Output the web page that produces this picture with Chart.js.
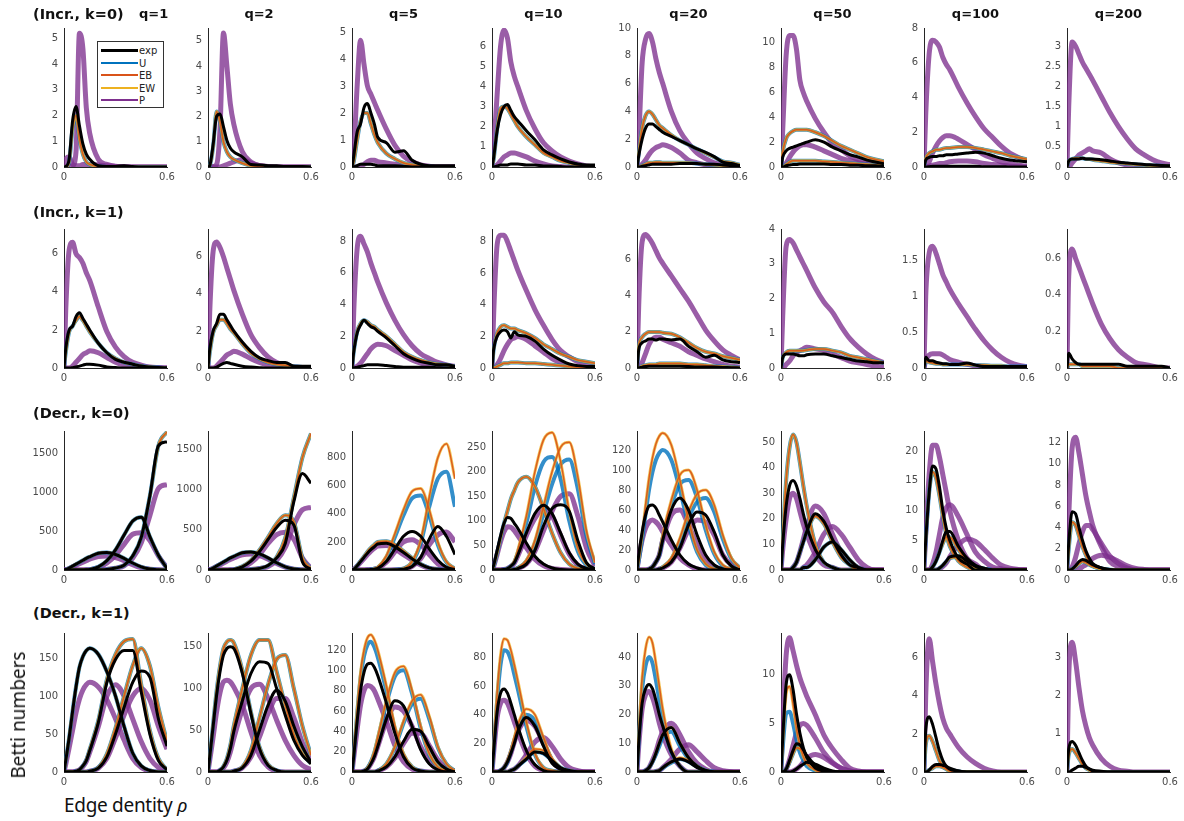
<!DOCTYPE html>
<html>
<head>
<meta charset="utf-8">
<script src="https://cdn.jsdelivr.net/npm/chart.js@4/dist/chart.umd.min.js"></script>
<style>
  body { margin: 0; background: #fff; width: 1184px; height: 821px; position: relative; overflow: hidden; font-family: "DejaVu Sans", sans-serif; }
  canvas { position: absolute; }
  .title { position: absolute; font-weight: bold; font-size: 13px; color: #111; white-space: pre; line-height: 16px; }
  .rowtitle { font-size: 14.5px; }
  .legend { position: absolute; left: 97px; top: 41px; width: 65px; height: 65px; border: 1px solid #333; background: #fff; font-size: 10px; color: #222; }
  .legend .entry { position: absolute; left: 41px; height: 13px; line-height: 13px; }
  .legend .swatch { position: absolute; left: 3px; width: 37px; }
  .ylab { position: absolute; left: 18px; top: 715px; transform: translate(-50%, -50%) rotate(-90deg); font-family: "Noto Sans", sans-serif; font-size: 19px; color: #111; white-space: nowrap; }
  .xlab { position: absolute; left: 64px; top: 792px; font-family: "Noto Sans", sans-serif; font-size: 19px; color: #111; white-space: nowrap; letter-spacing: -0.3px; }
</style>
</head>
<body>
<script>
// edge density grid shared by every curve
const rho = [0, 0.01, 0.03, 0.05, 0.07, 0.09, 0.11, 0.13, 0.15, 0.2, 0.25, 0.3, 0.35, 0.4, 0.45, 0.5, 0.55, 0.6];
const qLabels = ['q=1', 'q=2', 'q=5', 'q=10', 'q=20', 'q=50', 'q=100', 'q=200'];
const rowTitles = ['(Incr., k=0)', '(Incr., k=1)', '(Decr., k=0)', '(Decr., k=1)'];

// y-axis limits and tick steps per row
const incr0Max = [5.4, 5.5, 5.15, 6.9, 10, 11.2, 8, 3.45];
const incr0Step = [1, 1, 1, 1, 2, 2, 2, 0.5];
const incr1Max = [7.3, 7.5, 8.75, 8.8, 7.7, 4.0, 1.94, 0.76];
const incr1Step = [2, 2, 2, 2, 2, 1, 0.5, 0.2];
const decr0Max = [1790, 1730, 990, 283, 139, 54.4, 23.4, 13.1];
const decr0Step = [500, 500, 200, 50, 20, 10, 5, 2];
const decr1Max = [183, 166.5, 136.7, 97, 48.4, 14.3, 7.3, 3.64];
const decr1Step = [50, 50, 20, 20, 10, 5, 2, 1];

// Incr., k=0 : one list of curves per q
const incr0Exp = [
  [[0,0.02,0.3,1.8,2.35,1.6,0.9,0.5,0.3,0.05,0.02,0.02,0.05,0.02,0,0,0,0]],
  [[0,0.05,0.9,2.0,2.1,1.6,1.05,0.75,0.6,0.4,0.1,0.08,0.05,0.05,0.02,0.02,0.02,0]],
  [[0,0.4,1.3,1.6,2.2,2.35,2.0,1.6,1.1,0.9,0.55,0.6,0.25,0.1,0.05,0.05,0.05,0.05],
   [0,0,0.05,0.1,0.1,0.1,0.1,0.08,0.05,0.05,0.05,0.02,0,0,0,0,0,0]],
  [[0,0.5,1.8,2.6,3.0,3.1,2.8,2.5,2.3,1.8,1.35,0.85,0.6,0.4,0.25,0.15,0.1,0.1],
   [0,0,0.05,0.1,0.1,0.1,0.15,0.15,0.15,0.1,0.1,0.05,0.05,0.02,0,0,0,0]],
  [[0,0.8,2.0,2.8,3.1,3.1,2.9,2.7,2.5,2.2,1.9,1.6,1.3,1.05,0.75,0.35,0.25,0.1],
   [0,0,0.05,0.1,0.15,0.2,0.2,0.2,0.2,0.2,0.25,0.25,0.25,0.2,0.2,0.15,0.1,0.05]],
  [[0,0.8,1.3,1.5,1.6,1.7,1.8,1.9,2.0,2.2,2.0,1.6,1.3,1.0,0.8,0.55,0.4,0.25],
   [0,0,0.1,0.15,0.2,0.2,0.25,0.25,0.25,0.25,0.25,0.2,0.2,0.15,0.15,0.1,0.1,0.05]],
  [[0,0.4,0.55,0.6,0.6,0.65,0.65,0.7,0.7,0.75,0.8,0.85,0.8,0.65,0.5,0.4,0.35,0.3],
   [0,0,0.02,0.05,0.05,0.05,0.05,0.05,0.05,0.05,0.05,0.05,0.02,0.02,0.02,0,0,0]],
  [[0,0.15,0.2,0.2,0.2,0.22,0.2,0.2,0.2,0.18,0.15,0.12,0.1,0.08,0.06,0.05,0.04,0.03]]
];
const incr0Model = [
  [[0,0,0.2,1.5,2.0,1.1,0.5,0.2,0.1,0.02,0,0,0,0,0,0,0,0]],
  [[0,0.05,0.8,2.2,1.8,1.0,0.6,0.4,0.3,0.15,0.05,0.02,0,0,0,0,0,0]],
  [[0,0.2,1.0,1.7,2.0,2.0,1.6,1.2,0.9,0.5,0.3,0.15,0.08,0.03,0.02,0,0,0]],
  [[0,0.4,1.9,2.9,3.0,2.9,2.6,2.3,2.0,1.5,1.1,0.7,0.5,0.3,0.2,0.1,0.05,0.05]],
  [[0,1.0,2.8,3.7,4.0,3.8,3.4,3.0,2.8,2.3,1.9,1.6,1.3,1.0,0.7,0.4,0.3,0.15],
   [0,0,0.1,0.2,0.3,0.3,0.35,0.35,0.3,0.3,0.3,0.3,0.25,0.2,0.15,0.1,0.05,0.02]],
  [[0,1.2,2.3,2.7,2.9,3.0,3.0,3.0,3.0,2.8,2.5,2.1,1.7,1.4,1.1,0.8,0.6,0.45],
   [0,0,0.2,0.4,0.5,0.5,0.5,0.5,0.5,0.5,0.45,0.4,0.35,0.3,0.25,0.2,0.15,0.1]],
  [[0,0.5,0.8,0.9,1.0,1.0,1.05,1.1,1.1,1.15,1.15,1.1,1.0,0.9,0.8,0.65,0.55,0.45]],
  [[0,0.15,0.2,0.22,0.22,0.22,0.2,0.2,0.18,0.15,0.12,0.1,0.08,0.06,0.05,0.04,0.03,0.02]]
];
const incr0P = [
  [[0,0,0.02,0.05,0.6,5.2,4.6,2.3,1.3,0.3,0.1,0.03,0.02,0,0,0,0,0],
   [0,0.3,0.4,0.1,0.05,0.05,0.1,0.1,0.1,0.08,0.05,0.02,0,0,0,0,0,0]],
  [[0,0,0.02,0.1,1.5,5.3,4.0,2.5,1.7,0.6,0.2,0.05,0.02,0,0,0,0,0],
   [0,0,0,0,0,0.05,0.1,0.15,0.2,0.3,0.15,0.05,0.02,0,0,0,0,0]],
  [[0,0.5,3.0,4.7,3.8,3.0,2.7,2.4,2.1,1.4,0.8,0.4,0.2,0.08,0.03,0,0,0],
   [0,0,0,0.05,0.1,0.2,0.25,0.25,0.2,0.15,0.1,0.05,0.02,0,0,0,0,0]],
  [[0,1.0,3.6,6.0,6.8,6.4,5.2,4.5,4.0,2.8,1.9,1.2,0.8,0.5,0.3,0.15,0.05,0],
   [0,0,0.1,0.3,0.5,0.6,0.7,0.7,0.65,0.5,0.3,0.15,0.05,0.02,0,0,0,0]],
  [[0,2.0,7.5,9.2,9.6,9.0,7.8,6.8,6.0,4.0,2.6,1.7,1.0,0.6,0.3,0.15,0.05,0],
   [0,0,0.2,0.5,0.9,1.2,1.4,1.5,1.6,1.4,1.0,0.5,0.3,0.15,0.05,0,0,0]],
  [[0,3.0,9.0,10.6,10.6,9.5,7.0,6.0,5.3,3.9,2.8,1.9,1.4,0.9,0.6,0.4,0.3,0.2],
   [0,0,0.3,0.8,1.2,1.5,1.7,1.8,1.8,1.6,1.3,1.0,0.7,0.5,0.35,0.2,0.1,0.05]],
  [[0,3.0,6.5,7.3,7.2,6.9,6.3,5.9,5.6,4.6,3.7,2.9,2.2,1.7,1.2,0.8,0.55,0.35],
   [0,0,0.3,0.8,1.2,1.5,1.7,1.8,1.8,1.6,1.3,1.0,0.7,0.5,0.3,0.2,0.1,0.05],
   [0,0,0.05,0.1,0.15,0.2,0.2,0.25,0.3,0.35,0.35,0.3,0.2,0.15,0.1,0.05,0.02,0]],
  [[0,1.5,3.1,3.0,2.8,2.6,2.45,2.3,2.15,1.75,1.35,1.0,0.7,0.45,0.3,0.18,0.1,0.06],
   [0,0,0.1,0.2,0.3,0.35,0.4,0.45,0.4,0.35,0.2,0.1,0.05,0.02,0,0,0,0]]
];

// Incr., k=1
const incr1Exp = [
  [[0,1.0,2.0,2.2,2.7,2.9,2.6,2.3,2.0,1.3,0.8,0.45,0.3,0.2,0.1,0.05,0.02,0],
   [0,0,0,0.02,0.05,0.1,0.15,0.2,0.2,0.15,0.05,0.02,0,0,0,0,0,0]],
  [[0,1.0,2.0,2.4,2.9,2.9,2.6,2.3,2.0,1.4,0.9,0.55,0.4,0.3,0.3,0.1,0.1,0.1],
   [0,0,0,0.05,0.15,0.25,0.3,0.25,0.2,0.1,0.05,0.02,0,0,0,0,0,0]],
  [[0,1.0,2.2,2.7,3.0,2.8,2.6,2.5,2.3,1.9,1.4,0.9,0.6,0.4,0.3,0.2,0.2,0.1],
   [0,0,0.05,0.1,0.15,0.2,0.2,0.2,0.2,0.15,0.1,0.05,0.05,0.05,0.05,0.02,0,0]],
  [[0,1.2,2.0,2.3,2.4,2.3,1.9,2.3,2.1,2.0,1.7,1.2,0.8,0.5,0.25,0.15,0.1,0.1]],
  [[0,1.0,1.4,1.5,1.6,1.6,1.55,1.6,1.6,1.55,1.6,1.2,0.9,0.6,0.7,0.45,0.35,0.3],
   [0,0,0.05,0.08,0.1,0.1,0.1,0.1,0.1,0.1,0.1,0.08,0.05,0.05,0.05,0.03,0.02,0]],
  [[0,0.3,0.4,0.4,0.4,0.38,0.35,0.35,0.38,0.4,0.4,0.35,0.3,0.25,0.2,0.18,0.15,0.15]],
  [[0,0.15,0.1,0.1,0.08,0.07,0.06,0.06,0.05,0.05,0.07,0.04,0.02,0.02,0.02,0.02,0.02,0.02]],
  [[0,0.08,0.05,0.03,0.02,0.02,0.02,0.02,0.02,0.02,0.02,0.02,0.01,0.01,0.01,0.01,0.01,0]]
];
const incr1Model = [
  [[0,0.8,1.9,2.2,2.5,2.7,2.5,2.2,1.9,1.3,0.8,0.5,0.3,0.2,0.1,0.05,0.02,0]],
  [[0,0.8,1.9,2.3,2.6,2.6,2.4,2.1,1.9,1.3,0.8,0.5,0.3,0.2,0.15,0.1,0.05,0.02]],
  [[0,1.0,2.3,2.8,3.0,2.9,2.7,2.6,2.4,2.0,1.5,1.0,0.7,0.5,0.35,0.25,0.2,0.1]],
  [[0,1.2,2.2,2.6,2.7,2.6,2.5,2.5,2.4,2.2,1.9,1.5,1.2,0.9,0.7,0.5,0.4,0.3],
   [0,0,0.1,0.2,0.3,0.3,0.35,0.35,0.35,0.3,0.3,0.25,0.2,0.15,0.1,0.05,0.02,0]],
  [[0,1.2,1.7,1.9,2.0,2.0,2.0,2.0,1.95,1.9,1.7,1.4,1.1,0.9,0.8,0.65,0.55,0.45],
   [0,0,0.1,0.15,0.2,0.2,0.2,0.25,0.25,0.25,0.25,0.2,0.2,0.15,0.1,0.08,0.05,0.02]],
  [[0,0.3,0.45,0.5,0.5,0.5,0.5,0.5,0.52,0.55,0.55,0.5,0.45,0.35,0.3,0.25,0.2,0.15]],
  [[0,0.1,0.08,0.07,0.06,0.06,0.05,0.05,0.05,0.05,0.05,0.04,0.04,0.03,0.03,0.02,0.02,0.02]],
  [[0,0.02,0.02,0.02,0.02,0.01,0.01,0.01,0.01,0.01,0.01,0,0,0,0,0,0,0]]
];
const incr1P = [
  [[0,3.0,6.2,6.6,6.0,5.8,5.5,5.0,4.6,3.2,1.9,1.1,0.6,0.3,0.15,0.05,0.02,0],
   [0,0,0,0.1,0.3,0.5,0.7,0.8,0.9,0.8,0.55,0.3,0.15,0.05,0.02,0,0,0]],
  [[0,3.0,6.3,6.8,6.5,6.0,5.4,4.8,4.2,2.9,1.8,1.1,0.6,0.3,0.15,0.05,0.02,0],
   [0,0,0,0.1,0.3,0.5,0.7,0.8,0.9,0.75,0.5,0.3,0.15,0.05,0.02,0,0,0]],
  [[0,3.5,7.5,8.3,7.8,7.3,6.6,6.0,5.4,4.1,3.0,2.1,1.4,0.9,0.6,0.35,0.2,0.1],
   [0,0,0.1,0.3,0.6,0.9,1.2,1.4,1.5,1.4,1.1,0.8,0.5,0.3,0.15,0.05,0.02,0]],
  [[0,3.5,7.8,8.4,8.4,8.0,7.4,6.8,6.2,4.9,3.7,2.7,1.8,1.1,0.7,0.4,0.2,0.1],
   [0,0,0.2,0.6,1.1,1.5,1.8,1.9,2.0,1.8,1.4,1.0,0.6,0.35,0.15,0.05,0.02,0]],
  [[0,3.5,7.0,7.4,7.2,6.9,6.5,6.1,5.8,5.1,4.4,3.7,2.9,2.1,1.5,1.0,0.7,0.45],
   [0,0,0.3,0.8,1.3,1.6,1.7,1.7,1.6,1.4,1.2,0.9,0.7,0.5,0.35,0.2,0.1,0.05]],
  [[0,1.5,3.5,3.7,3.6,3.4,3.2,3.0,2.8,2.3,1.9,1.6,1.2,0.85,0.6,0.4,0.25,0.15],
   [0,0,0.1,0.2,0.35,0.45,0.5,0.55,0.6,0.55,0.5,0.4,0.3,0.2,0.15,0.1,0.05,0.02]],
  [[0,1.0,1.6,1.7,1.6,1.45,1.3,1.2,1.1,0.9,0.72,0.54,0.38,0.25,0.15,0.08,0.04,0.02],
   [0,0.1,0.18,0.2,0.2,0.2,0.18,0.15,0.12,0.08,0.05,0.03,0.02,0,0,0,0,0]],
  [[0,0.5,0.65,0.6,0.55,0.5,0.45,0.4,0.35,0.24,0.16,0.1,0.06,0.03,0.02,0.01,0,0]]
];

// Decr., k=0 : three humps per q
const decr0Exp = [
  [[0,5,25,50,75,100,125,150,170,215,225,200,150,90,40,12,3,0],
   [0,0,0,0,0,0,1,3,8,40,120,260,450,630,680,430,190,20],
   [0,0,0,0,0,0,0,0,0,2,8,25,60,180,420,950,1600,1650]],
  [[0,5,25,50,75,100,125,150,170,215,225,200,150,90,40,12,3,0],
   [0,0,0,0,0,0,1,3,8,40,110,230,380,530,620,560,100,10],
   [0,0,0,0,0,0,0,0,0,2,6,20,55,150,330,850,1200,1080]],
  [[0,5,30,60,90,120,145,165,185,190,165,125,80,40,15,5,1,0],
   [0,0,0,0,0,1,3,6,12,60,150,240,275,240,150,70,20,3],
   [0,0,0,0,0,0,0,0,0,0,1,5,25,90,220,310,240,110]],
  [[0,10,40,70,95,107,105,95,85,55,28,12,4,1,0,0,0,0],
   [0,0,0,0,1,3,8,15,30,75,115,132,115,75,35,12,3,0],
   [0,0,0,0,0,0,0,1,3,12,40,90,125,133,120,60,15,2]],
  [[0,15,38,55,64,65,62,55,48,30,15,6,2,0,0,0,0,0],
   [0,0,0,0,1,3,8,15,30,60,72,60,35,15,5,1,0,0],
   [0,0,0,0,0,0,0,1,2,8,22,45,58,55,38,15,4,0]],
  [[0,10,25,33,35,33,28,22,17,8,3,1,0,0,0,0,0,0],
   [0,0,0,0,1,3,7,11,15,22,19,12,6,2,1,0,0,0],
   [0,0,0,0,0,0,0,1,1,4,9,11,8,4,1,0,0,0]],
  [[0,5,13,17.5,17,14,10,7,5,2,1,0,0,0,0,0,0,0],
   [0,0,0,0.5,1.5,3,5,6.5,6.5,4,2,0.8,0.3,0,0,0,0,0],
   [0,0,0,0,0,0.3,0.8,1.5,2.2,2.4,1.5,0.6,0.2,0,0,0,0,0]],
  [[0,2.5,5.5,5.3,4,2.8,1.8,1.1,0.6,0.2,0,0,0,0,0,0,0,0],
   [0,0,0.1,0.4,0.8,1.0,0.9,0.7,0.5,0.2,0.05,0,0,0,0,0,0,0]]
];
const decr0Model = [
  [[0,5,25,50,75,100,125,150,170,215,225,200,150,90,40,12,3,0],
   [0,0,0,0,0,0,1,3,8,40,120,260,450,630,680,430,190,20],
   [0,0,0,0,0,0,0,0,0,2,8,25,60,180,420,950,1600,1780]],
  [[0,5,25,50,75,100,125,150,170,215,225,200,150,90,40,12,3,0],
   [0,0,0,0,0,0,1,3,8,45,120,250,410,580,680,600,150,15],
   [0,0,0,0,0,0,0,0,0,2,6,20,55,160,400,900,1400,1700]],
  [[0,5,32,65,97,130,158,180,200,205,180,135,85,42,15,5,1,0],
   [0,0,0,0,0,1,4,10,20,100,260,430,560,580,430,200,60,10],
   [0,0,0,0,0,0,0,0,0,0,2,10,60,210,520,800,900,650]],
  [[0,8,35,65,95,120,145,162,178,190,170,125,75,35,12,3,1,0],
   [0,0,0,0,1,3,8,18,40,110,200,265,280,220,120,45,12,2],
   [0,0,0,0,0,0,0,1,4,20,60,130,200,250,260,190,80,15]],
  [[0,10,35,65,92,112,126,134,137,125,90,50,20,6,1,0,0,0],
   [0,0,0,0,1,3,8,16,35,70,95,100,80,45,18,5,1,0],
   [0,0,0,0,0,0,0,1,3,12,32,58,76,80,65,35,12,2]],
  [[0,12,35,48,53,50,42,33,25,10,3,1,0,0,0,0,0,0],
   [0,0,0,0,1,3,7,11,15,21,18,11,5,2,0,0,0,0],
   [0,0,0,0,0,0,0,1,1,4,9,11,8,4,1,0,0,0]],
  [[0,5,13,16.5,15.5,12.5,9,6,4,1.5,0.5,0,0,0,0,0,0,0],
   [0,0,0,0.5,1.5,3,4.5,5.5,5.5,3.5,1.5,0.5,0.2,0,0,0,0,0],
   [0,0,0,0,0,0.3,0.8,1.4,2,2.2,1.3,0.5,0.2,0,0,0,0,0]],
  [[0,2,4.5,4.2,3.2,2.2,1.4,0.8,0.4,0.1,0,0,0,0,0,0,0,0],
   [0,0,0.1,0.3,0.6,0.8,0.7,0.5,0.35,0.15,0.03,0,0,0,0,0,0,0]]
];
// uniform-model curves where they sit below EB/EW (null: same as EB/EW)
const decr0Unif = [
  null,
  null,
  [[0,5,32,65,97,130,158,180,200,205,180,135,85,42,15,5,1,0],
   [0,0,0,0,0,1,4,9,18,90,235,390,510,530,390,180,55,9],
   [0,0,0,0,0,0,0,0,0,0,2,10,55,190,450,650,700,450]],
  [[0,8,35,65,95,120,145,162,178,190,170,125,75,35,12,3,1,0],
   [0,0,0,0,1,3,8,16,35,95,170,220,230,185,100,38,10,2],
   [0,0,0,0,0,0,0,1,4,18,55,115,175,215,225,165,70,12]],
  [[0,9,31,56,80,98,110,117,120,110,80,45,18,5,1,0,0,0],
   [0,0,0,0,1,3,8,15,32,64,86,90,72,40,16,4,1,0],
   [0,0,0,0,0,0,0,1,3,11,29,52,68,72,58,31,11,2]],
  null,
  null,
  null
];
const decr0P = [
  [[0,4,20,40,60,80,100,120,140,175,180,160,120,70,30,10,2,0],
   [0,0,0,0,0,0,1,2,5,30,90,190,330,460,480,380,180,30],
   [0,0,0,0,0,0,0,0,0,2,8,22,55,150,350,700,1050,1100]],
  [[0,4,22,45,65,88,110,130,150,190,200,180,135,80,35,10,2,0],
   [0,0,0,0,0,0,1,2,5,30,90,190,330,440,470,380,150,20],
   [0,0,0,0,0,0,0,0,0,2,6,18,45,120,280,560,750,780]],
  [[0,5,28,55,82,110,135,155,170,175,150,110,70,35,12,4,1,0],
   [0,0,0,0,0,1,3,6,12,55,130,200,215,180,110,45,12,2],
   [0,0,0,0,0,0,0,0,0,0,1,5,25,80,180,250,270,200]],
  [[0,8,32,58,78,88,87,80,70,45,22,9,3,1,0,0,0,0],
   [0,0,0,0,1,3,7,14,28,70,105,125,110,70,32,10,2,0],
   [0,0,0,0,0,0,0,1,3,12,38,80,120,150,155,110,45,8]],
  [[0,12,30,42,48,50,48,44,38,25,12,5,1,0,0,0,0,0],
   [0,0,0,0,1,3,8,15,30,55,60,45,25,10,3,1,0,0],
   [0,0,0,0,0,0,0,1,2,8,22,40,50,48,35,15,5,1]],
  [[0,8,20,28,30,28,23,18,14,6,2,1,0,0,0,0,0,0],
   [0,0,0,0,1,3,7,12,17,25,22,14,7,3,1,0,0,0],
   [0,0,0,0,0,0,0,1,2,7,14,17,14,9,4,1,0,0]],
  [[0,6,16,21,21,19,16,13,10,5,2,1,0,0,0,0,0,0],
   [0,0,0,1,3,6,9,10.5,11,9,6,3,1.5,0.5,0.2,0,0,0],
   [0,0,0,0,0,0.2,0.6,1.2,2.2,4.2,5.2,4.8,3.5,2,0.8,0.3,0.1,0]],
  [[0,5,11.5,12.5,11,9,7,5.5,4.2,2.2,0.8,0.3,0.1,0,0,0,0,0],
   [0,0,0.3,1.2,2.5,3.6,4.2,4.2,3.8,2.5,1.3,0.6,0.2,0,0,0,0,0],
   [0,0,0,0,0.1,0.3,0.5,0.8,1.1,1.4,1.2,0.8,0.4,0.15,0.05,0,0,0]]
];

// Decr., k=1
const decr1Exp = [
  [[0,15,45,80,112,138,152,160,163,155,132,100,60,25,8,2,0,0],
   [0,0,0,0,1,3,8,15,28,65,118,148,160,160,105,50,15,3],
   [0,0,0,0,0,0,0,0,1,5,20,50,85,118,133,125,70,34]],
  [[0,18,55,92,120,140,148,150,148,118,70,28,8,2,0,0,0,0],
   [0,0,0,0,2,6,14,28,48,85,118,132,130,100,68,38,20,10],
   [0,0,0,0,0,0,0,0,1,5,20,50,80,98,85,55,30,12]],
  [[0,15,50,80,98,106,107,103,95,68,38,15,4,1,0,0,0,0],
   [0,0,0,0,1,3,8,15,25,52,70,65,45,22,8,2,0,0],
   [0,0,0,0,0,0,0,0,1,5,15,30,42,40,25,10,3,0]],
  [[0,15,42,55,58,55,48,40,32,15,5,1,0,0,0,0,0,0],
   [0,0,0,1,3,7,13,20,28,38,32,18,6,2,0,0,0,0],
   [0,0,0,0,0,0,1,2,4,9,14,13,8,3,1,0,0,0]],
  [[0,10,24,29,30.5,29,25,20,16,7,2,0,0,0,0,0,0,0],
   [0,0,0,0.5,1.5,3.5,6.5,10,13,15.5,10,5,2,0.5,0,0,0,0],
   [0,0,0,0,0,0,0.2,0.5,1.5,3.5,4.5,3.5,1.5,0.5,0,0,0,0]],
  [[0,3.5,9,10,8.5,6,4,2.5,1.5,0.4,0.1,0,0,0,0,0,0,0],
   [0,0,0.3,1.2,2.2,2.9,2.8,2.3,1.7,0.7,0.2,0,0,0,0,0,0,0],
   [0,0,0,0,0.1,0.3,0.6,0.8,1,0.8,0.4,0.1,0,0,0,0,0,0]],
  [[0,2.2,2.9,2.5,1.8,1.1,0.6,0.3,0.15,0.05,0,0,0,0,0,0,0,0],
   [0,0,0.1,0.3,0.4,0.4,0.35,0.3,0.2,0.05,0,0,0,0,0,0,0,0]],
  [[0,0.6,0.8,0.7,0.5,0.3,0.15,0.08,0.03,0,0,0,0,0,0,0,0,0],
   [0,0,0.05,0.1,0.15,0.15,0.12,0.08,0.05,0.02,0,0,0,0,0,0,0,0]]
];
const decr1Model = [
  [[0,15,45,80,112,138,152,160,163,155,132,100,60,25,8,2,0,0],
   [0,0,0,0,1,3,8,16,30,68,122,155,172,175,115,55,18,3],
   [0,0,0,0,0,0,0,0,1,6,24,58,100,140,163,140,85,40]],
  [[0,18,58,97,127,148,156,158,155,122,72,30,9,2,0,0,0,0],
   [0,0,0,0,2,7,16,32,55,100,140,158,158,120,80,45,22,10],
   [0,0,0,0,0,0,0,0,1,6,26,65,105,135,140,100,55,20]],
  [[0,18,60,98,120,132,135,130,120,85,45,18,5,1,0,0,0,0],
   [0,0,0,0,1,4,10,20,34,70,98,104,80,45,18,5,1,0],
   [0,0,0,0,0,0,0,0,1,8,25,50,70,76,55,25,8,1]],
  [[0,18,55,82,93,92,85,75,64,35,13,3,1,0,0,0,0,0],
   [0,0,0,1,3,8,15,24,33,44,40,24,9,2,0,0,0,0],
   [0,0,0,0,0,0,1,2,4,10,16,15,9,3,1,0,0,0]],
  [[0,12,33,43,47,45,38,30,22,8,2,0,0,0,0,0,0,0],
   [0,0,0,0.5,1.5,3.5,6.5,10,13,15.5,10,5,2,0.5,0,0,0,0],
   [0,0,0,0,0,0,0.2,0.6,1.5,3.5,5,4,2,0.5,0.1,0,0,0]],
  [[0,3,8,8.8,7,4.5,2.8,1.6,0.9,0.2,0,0,0,0,0,0,0,0],
   [0,0,0.3,1.0,1.9,2.5,2.4,2.0,1.5,0.6,0.15,0,0,0,0,0,0,0]],
  [[0,1.4,1.9,1.6,1.1,0.6,0.3,0.15,0.05,0,0,0,0,0,0,0,0,0],
   [0,0,0.1,0.2,0.3,0.3,0.25,0.2,0.12,0.03,0,0,0,0,0,0,0,0]],
  [[0,0.45,0.6,0.5,0.35,0.2,0.1,0.05,0,0,0,0,0,0,0,0,0,0]]
];
const decr1Unif = [
  null,
  null,
  [[0,17,57,93,114,125,128,123,113,80,42,17,5,1,0,0,0,0],
   [0,0,0,0,1,4,10,19,32,67,94,100,77,43,17,5,1,0],
   [0,0,0,0,0,0,0,0,1,8,24,48,67,72,52,24,8,1]],
  [[0,16,50,75,85,84,78,68,58,32,12,3,1,0,0,0,0,0],
   [0,0,0,1,3,7,14,22,30,40,36,22,8,2,0,0,0,0],
   [0,0,0,0,0,0,1,2,4,9,14,13,8,3,1,0,0,0]],
  [[0,11,29,37,40,38,32,25,18,7,2,0,0,0,0,0,0,0],
   [0,0,0,0.5,1.5,3.5,6,9,12,14,9,4.5,2,0.5,0,0,0,0],
   [0,0,0,0,0,0,0.2,0.5,1.4,3.2,4.5,3.6,1.8,0.5,0.1,0,0,0]],
  [[0,2.5,6,6.2,5,3.3,2,1.2,0.6,0.15,0,0,0,0,0,0,0,0],
   [0,0,0.3,1.0,1.9,2.5,2.4,2.0,1.5,0.6,0.15,0,0,0,0,0,0,0]],
  null,
  null
];
const decr1P = [
  [[0,10,32,55,78,96,108,115,118,112,95,70,42,18,6,1,0,0],
   [0,0,0,0,1,3,7,14,26,60,100,115,100,70,40,18,6,1],
   [0,0,0,0,0,0,0,0,1,5,18,45,75,100,110,95,60,30]],
  [[0,14,42,72,95,108,110,108,102,80,48,20,6,1,0,0,0,0],
   [0,0,0,0,2,5,12,24,40,75,100,105,88,62,38,20,8,3],
   [0,0,0,0,0,0,0,0,1,5,18,42,70,88,88,65,35,12]],
  [[0,14,42,66,80,85,84,80,72,50,26,10,3,1,0,0,0,0],
   [0,0,0,0,1,3,8,15,25,50,64,60,45,25,10,3,1,0],
   [0,0,0,0,0,0,0,0,1,5,14,28,38,38,26,12,4,1]],
  [[0,14,38,48,50,48,42,35,28,13,4,1,0,0,0,0,0,0],
   [0,0,0,1,3,7,13,21,28,36,32,20,8,2,0,0,0,0],
   [0,0,0,0,0,0,1,2,4,12,21,24,18,9,3,1,0,0]],
  [[0,9,22,27,28,26,22,17,13,6,2,0,0,0,0,0,0,0],
   [0,0,0,0.5,1.5,4,7,11,14,17,13,7,3,1,0,0,0,0],
   [0,0,0,0,0,0,0.2,0.5,1.5,4.5,8,9.5,7,4,1.5,0.5,0.1,0]],
  [[0,5,12,13.8,12.5,11,9.7,8.7,7.8,5.9,3.8,2.4,1.3,0.4,0.1,0,0,0],
   [0,0,0.3,1.3,2.7,4,4.8,5,4.8,3.5,2,1,0.4,0.1,0,0,0,0],
   [0,0,0,0,0.1,0.3,0.6,1,1.4,1.8,1.5,0.9,0.4,0.1,0,0,0,0]],
  [[0,4,7,5.8,4.6,3.6,2.8,2.3,2.0,1.3,0.8,0.45,0.2,0.05,0,0,0,0]],
  [[0,2.5,3.4,2.9,2.2,1.6,1.2,0.9,0.7,0.35,0.15,0.05,0.02,0,0,0,0,0]]
];

// ---- layout of the 4 x 8 grid ----
const colLeft = [64, 207.5, 352, 492, 637, 781, 924, 1067];
const rowBottom = [167, 368, 570, 771.5];
const titleY = [14, 212, 413, 613];
const PLOT_W = 103, PLOT_H = 143;
const AX_W = 40, AX_H = 20, PAD_T = 8, PAD_R = 12;

const COLORS = {
  exp: '#000000',
  U: 'rgba(0,114,189,0.8)',
  EB: 'rgba(217,83,25,0.9)',
  EW: 'rgba(237,177,32,0.75)',
  P: 'rgba(126,47,142,0.78)'
};

const rows = [
  { exp: incr0Exp, model: incr0Model, unif: incr0Model, p: incr0P, max: incr0Max, step: incr0Step },
  { exp: incr1Exp, model: incr1Model, unif: incr1Model, p: incr1P, max: incr1Max, step: incr1Step },
  { exp: decr0Exp, model: decr0Model, unif: decr0Unif, p: decr0P, max: decr0Max, step: decr0Step },
  { exp: decr1Exp, model: decr1Model, unif: decr1Unif, p: decr1P, max: decr1Max, step: decr1Step }
];

Chart.defaults.font.family = '"DejaVu Sans", sans-serif';
Chart.defaults.font.size = 10;
Chart.defaults.color = '#4a4a4a';

function lineSet(values, color, width) {
  return {
    data: rho.map((x, i) => ({ x: x, y: values[i] })),
    borderColor: color,
    borderWidth: width,
    pointRadius: 0,
    fill: false,
    cubicInterpolationMode: 'monotone'
  };
}

function fmt(v) { return String(+v.toFixed(2)); }

function addText(cls, text, left, top, center) {
  const d = document.createElement('div');
  d.className = cls;
  d.textContent = text;
  d.style.left = left + 'px';
  d.style.top = (top - 8) + 'px';
  if (center) d.style.transform = 'translateX(-50%)';
  document.body.appendChild(d);
}

rows.forEach((row, r) => {
  qLabels.forEach((q, c) => {
    const canvas = document.createElement('canvas');
    canvas.width = AX_W + PLOT_W + PAD_R;
    canvas.height = PAD_T + PLOT_H + AX_H;
    canvas.style.left = (colLeft[c] - AX_W) + 'px';
    canvas.style.top = (rowBottom[r] - PLOT_H - PAD_T) + 'px';
    document.body.appendChild(canvas);

    // first dataset is drawn on top, so black goes first and P last
    const model = row.model[c] || [];
    const unif = row.unif[c] || model;
    const datasets = [];
    row.exp[c].forEach(v => datasets.push(lineSet(v, COLORS.exp, 3)));
    model.forEach(v => datasets.push(lineSet(v, COLORS.EB, 1.5)));
    model.forEach(v => datasets.push(lineSet(v, COLORS.EW, 3)));
    unif.forEach(v => datasets.push(lineSet(v, COLORS.U, 4)));
    row.p[c].forEach(v => datasets.push(lineSet(v, COLORS.P, 5)));

    const yMax = row.max[c], yStep = row.step[c];
    new Chart(canvas, {
      type: 'line',
      data: { datasets: datasets },
      options: {
        responsive: false,
        animation: false,
        events: [],
        layout: { padding: { top: PAD_T, right: PAD_R, left: 0, bottom: 0 } },
        plugins: { legend: { display: false }, tooltip: { enabled: false } },
        scales: {
          x: {
            type: 'linear', min: 0, max: 0.6,
            grid: { display: true, drawOnChartArea: false, drawTicks: false },
            border: { display: true, color: '#262626', width: 1 },
            ticks: { padding: 4, maxRotation: 0, autoSkip: false, callback: fmt },
            afterBuildTicks: s => { s.ticks = [{ value: 0 }, { value: 0.6 }]; },
            afterFit: s => { s.height = AX_H; }
          },
          y: {
            type: 'linear', min: 0, max: yMax,
            grid: { display: true, drawOnChartArea: false, drawTicks: false },
            border: { display: true, color: '#262626', width: 1 },
            ticks: { padding: 6, autoSkip: false, callback: fmt },
            afterBuildTicks: s => {
              const t = [];
              for (let k = 0; k * yStep <= yMax + 1e-9; k++) t.push({ value: +(k * yStep).toFixed(3) });
              s.ticks = t;
            },
            afterFit: s => { s.width = AX_W; }
          }
        }
      }
    });

    if (r === 0 && c > 0) addText('title', q, colLeft[c] + PLOT_W / 2, titleY[0], true);
  });
  addText('title rowtitle', rowTitles[r], 33, titleY[r], false);
});
addText('title', qLabels[0], 139, titleY[0], false);

// legend box inside the first panel
const legend = document.createElement('div');
legend.className = 'legend';
[['exp', '#000000', 3], ['U', '#0072BD', 2], ['EB', '#D95319', 2], ['EW', '#EDB120', 2], ['P', '#7E2F8E', 2]]
  .forEach((e, i) => {
    const y = 2 + Math.round(i * 12.6);
    const sw = document.createElement('div');
    sw.className = 'swatch';
    sw.style.top = (y + 6 - Math.floor(e[2] / 2)) + 'px';
    sw.style.height = e[2] + 'px';
    sw.style.backgroundColor = e[1];
    legend.appendChild(sw);
    const label = document.createElement('div');
    label.className = 'entry';
    label.style.top = y + 'px';
    label.textContent = e[0];
    legend.appendChild(label);
  });
document.body.appendChild(legend);

const ylab = document.createElement('div');
ylab.className = 'ylab';
ylab.textContent = 'Betti numbers';
document.body.appendChild(ylab);

const xlab = document.createElement('div');
xlab.className = 'xlab';
xlab.innerHTML = 'Edge dentity <i>&rho;</i>';
document.body.appendChild(xlab);
</script>
</body>
</html>
